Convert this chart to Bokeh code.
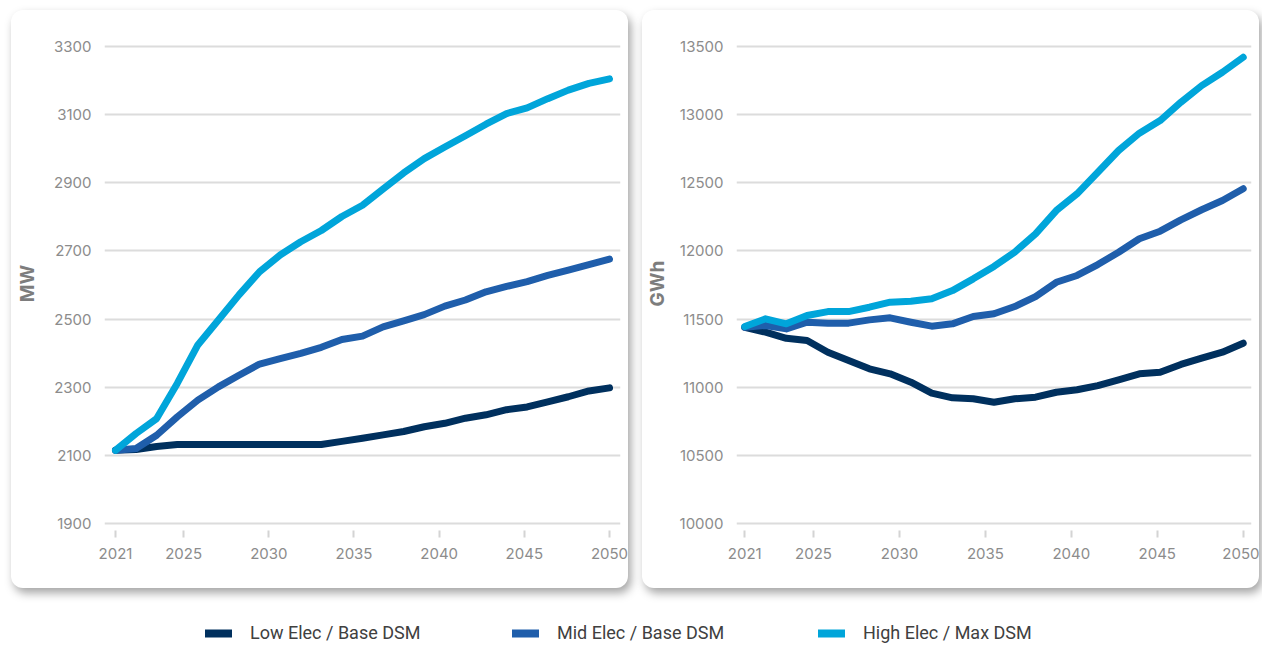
from bokeh.plotting import figure
from bokeh.models import Range1d, FixedTicker, Legend, LegendItem
from bokeh.layouts import row, column
from bokeh.embed import file_html
from bokeh.resources import INLINE
import numpy as np

# Scenario names and colours
scenarios = ["Low Elec / Base DSM", "Mid Elec / Base DSM", "High Elec / Max DSM"]
colors = ["#00305e", "#1f5eab", "#00a5da"]

# Peak demand (MW), sampled evenly from 2021 to 2050
low_mw = [2115, 2117, 2126, 2132, 2132, 2132, 2132, 2132, 2132, 2132, 2132, 2141, 2150,
          2160, 2170, 2184, 2194, 2209, 2219, 2234, 2242, 2257, 2272, 2289, 2298]
mid_mw = [2115, 2120, 2159, 2213, 2262, 2301, 2335, 2368, 2384, 2399, 2417, 2440, 2450,
          2477, 2495, 2513, 2538, 2556, 2580, 2596, 2610, 2628, 2644, 2660, 2676]
high_mw = [2115, 2164, 2208, 2311, 2424, 2497, 2571, 2639, 2688, 2727, 2760, 2801, 2834,
           2882, 2929, 2971, 3005, 3038, 3072, 3103, 3120, 3147, 3172, 3192, 3205]

# Annual energy (GWh), sampled evenly from 2021 to 2050
low_gwh = [11440, 11404, 11359, 11343, 11257, 11196, 11135, 11098, 11037, 10956, 10922, 10915, 10890,
           10915, 10927, 10963, 10981, 11012, 11054, 11098, 11110, 11167, 11213, 11257, 11323]
mid_gwh = [11440, 11453, 11428, 11477, 11470, 11470, 11494, 11509, 11477, 11448, 11465, 11519, 11539,
           11592, 11665, 11770, 11820, 11900, 11990, 12089, 12145, 12228, 12302, 12370, 12456]
high_gwh = [11445, 11502, 11465, 11526, 11555, 11555, 11587, 11624, 11631, 11649, 11709, 11795, 11886,
            11992, 12125, 12296, 12419, 12577, 12737, 12864, 12957, 13091, 13213, 13311, 13421]

year_ticks = [2021, 2025, 2030, 2035, 2040, 2045, 2050]
mw_ticks = [1900, 2100, 2300, 2500, 2700, 2900, 3100, 3300]
gwh_ticks = [10000, 10500, 11000, 11500, 12000, 12500, 13000, 13500]

TICK_FONT = "Inter"
CARD_STYLE = {
    "border-radius": "12px",
    "background-color": "#ffffff",
    "box-shadow": "3px 5px 10px rgba(0,0,0,0.36)",
}


def make_card(series, x_rng, y_rng, y_ticks, unit, label_standoff, margin):
    p = figure(width=617, height=578, output_backend="svg", toolbar_location=None,
               x_range=Range1d(*x_rng), y_range=Range1d(*y_rng),
               min_border_left=93, min_border_right=8, min_border_top=26, min_border_bottom=58,
               border_fill_color=None, background_fill_color=None, outline_line_color=None,
               styles=CARD_STYLE, margin=margin)
    p.xgrid.grid_line_color = None
    p.ygrid.grid_line_color = "#dcdcdc"
    p.ygrid.grid_line_width = 2
    p.ygrid.ticker = FixedTicker(ticks=y_ticks)

    p.xaxis.ticker = FixedTicker(ticks=year_ticks)
    p.xaxis.axis_line_color = None
    p.xaxis.major_tick_line_color = "#d4d4d4"
    p.xaxis.major_tick_line_width = 2
    p.xaxis.major_tick_in = 0
    p.xaxis.major_tick_out = 7
    p.xaxis.minor_tick_line_color = None
    p.xaxis.major_label_standoff = 10

    p.yaxis.ticker = FixedTicker(ticks=y_ticks)
    p.yaxis.axis_line_color = None
    p.yaxis.major_tick_line_color = None
    p.yaxis.minor_tick_line_color = None
    p.yaxis.major_label_standoff = 7
    p.yaxis.axis_label = unit
    p.yaxis.axis_label_standoff = label_standoff
    p.yaxis.axis_label_text_font = TICK_FONT
    p.yaxis.axis_label_text_font_size = "19px"
    p.yaxis.axis_label_text_font_style = "bold"
    p.yaxis.axis_label_text_color = "#7d7d7d"

    for ax in (p.xaxis, p.yaxis):
        ax.major_label_text_font = TICK_FONT
        ax.major_label_text_font_size = "15px"
        ax.major_label_text_color = "#8c8c8c"

    for vals, col in zip(series, colors):
        xs = np.linspace(2021, 2050, len(vals))
        p.line(xs, vals, line_color=col, line_width=7, line_cap="round", line_join="round")
    return p


left = make_card([low_mw, mid_mw, high_mw], (2020.354, 2050.646), (1879.4, 3329.4),
                 mw_ticks, "MW", 12, (10, 0, 0, 11))
right = make_card([low_gwh, mid_gwh, high_gwh], (2020.518, 2050.482), (9948.6, 13573.4),
                  gwh_ticks, "GWh", 8, (10, 0, 0, 14))

# Shared legend strip below both cards
leg = figure(width=1262, height=59, output_backend="svg", toolbar_location=None,
             x_range=Range1d(0, 1), y_range=Range1d(0, 1),
             x_axis_location=None, y_axis_location=None,
             min_border=0, outline_line_color=None, border_fill_color=None,
             background_fill_color=None)
leg.grid.grid_line_color = None
glyph_x = [205, 512, 818]
for name, col, gx in zip(scenarios, colors, glyph_x):
    # a single off-range point: the renderer only supplies the legend swatch
    r = leg.line([-5], [-5], line_color=col, line_width=8, line_cap="round", line_join="round")
    lg = Legend(items=[LegendItem(label=name, renderers=[r])], location=(gx, 4),
                orientation="horizontal", padding=0, margin=0, border_line_color=None,
                background_fill_alpha=0, glyph_width=27, glyph_height=20,
                label_standoff=18, label_height=20,
                label_text_font="Roboto", label_text_font_size="18px",
                label_text_color="#404040")
    leg.add_layout(lg, "center")

layout = column(row(left, right, spacing=0), leg, spacing=0)

open("out.html", "w").write(file_html(layout, INLINE))
